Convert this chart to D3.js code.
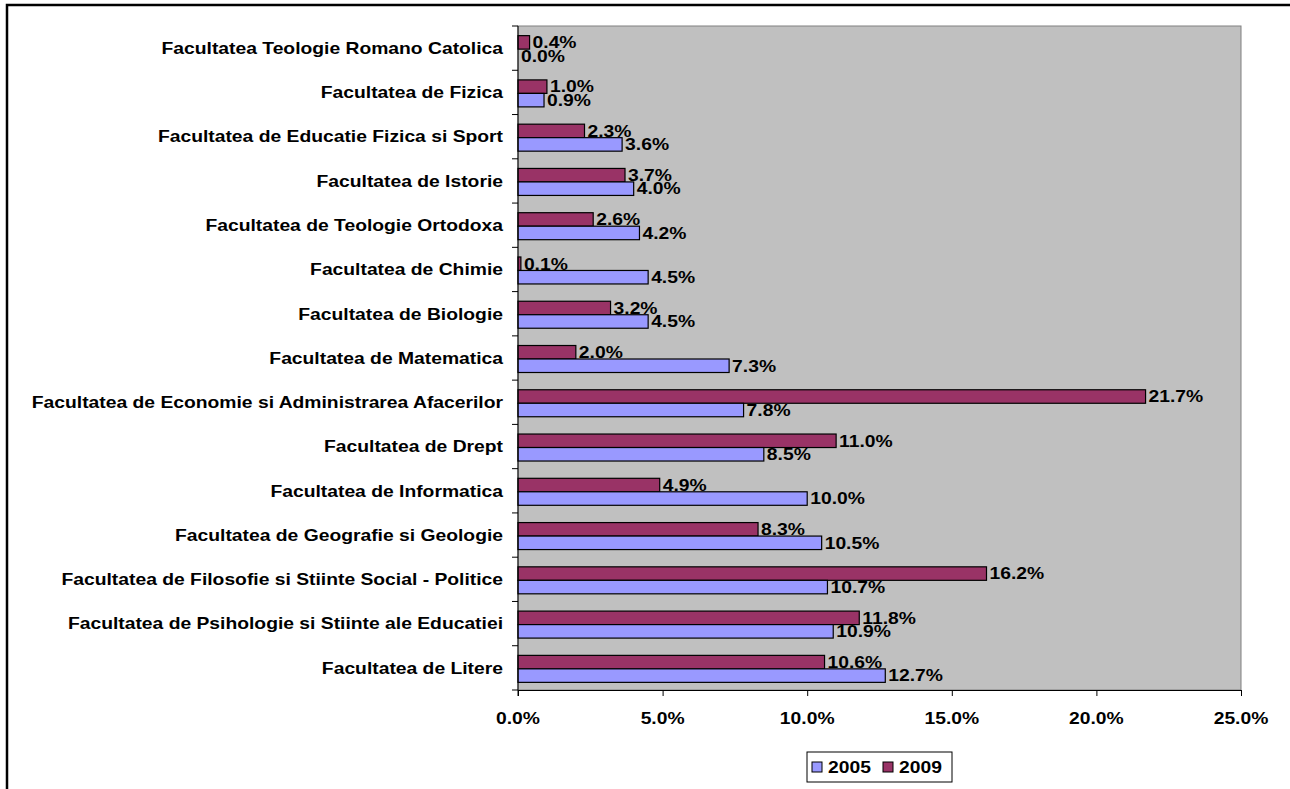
<!DOCTYPE html>
<html><head><meta charset="utf-8">
<script src="https://cdn.jsdelivr.net/npm/d3@7"></script>
<style>body{margin:0;background:#fff}svg{display:block}text{font-family:Arial,"Liberation Sans",sans-serif;font-weight:bold}</style>
</head><body><svg id="c" width="1290" height="789"></svg>
<script>
const categories = [
 "Facultatea Teologie Romano Catolica",
 "Facultatea de Fizica",
 "Facultatea de Educatie Fizica si Sport",
 "Facultatea de Istorie",
 "Facultatea de Teologie Ortodoxa",
 "Facultatea de Chimie",
 "Facultatea de Biologie",
 "Facultatea de Matematica",
 "Facultatea de Economie si Administrarea Afacerilor",
 "Facultatea de Drept",
 "Facultatea de Informatica",
 "Facultatea de Geografie si Geologie",
 "Facultatea de Filosofie si Stiinte Social - Politice",
 "Facultatea de Psihologie si Stiinte ale Educatiei",
 "Facultatea de Litere"
];
const values2005 = [0.0,0.9,3.6,4.0,4.2,4.5,4.5,7.3,7.8,8.5,10.0,10.5,10.7,10.9,12.7];
const values2009 = [0.4,1.0,2.3,3.7,2.6,0.1,3.2,2.0,21.7,11.0,4.9,8.3,16.2,11.8,10.6];
const seriesNames = ["2005","2009"];
const xTicks = [0,5,10,15,20,25];
const colors = {"2005":"#9999ff","2009":"#993366"};

const FS = 16.5, SX = 1.17;
function stretchedText(g, tx, ty, anchor, str){
  const t = g.append("g").attr("transform",`translate(${tx},${ty}) scale(${SX},1)`);
  t.append("text").attr("x",0).attr("y",0).attr("dy","0.35em")
   .attr("text-anchor",anchor).attr("font-size",FS).attr("fill","#000").text(str);
  return t;
}

const svg = d3.select("#c");
svg.append("rect").attr("x",7).attr("y",5).attr("width",1300).attr("height",800)
  .attr("fill","none").attr("stroke","#000").attr("stroke-width",2.5);

const L=518,R=1241,T=26,B=690;
const x = d3.scaleLinear().domain([0,25]).range([L,R]);
const y = d3.scaleBand().domain(categories).range([T,B]).padding(0);
const ys = d3.scaleBand().domain(["2009","2005"]).range([0,y.bandwidth()]).paddingInner(0).paddingOuter(0.64);

svg.append("rect").attr("x",L).attr("y",T).attr("width",R-L).attr("height",B-T)
  .attr("fill","#c0c0c0").attr("stroke","#808080").attr("stroke-width",1);

const data = [];
categories.forEach((c,i)=>{
  data.push({cat:c,s:"2009",v:values2009[i]});
  data.push({cat:c,s:"2005",v:values2005[i]});
});

svg.append("g").selectAll("rect").data(data).join("rect")
  .attr("x",x(0)).attr("y",d=>y(d.cat)+ys(d.s)+1)
  .attr("width",d=>x(d.v)-x(0)).attr("height",ys.bandwidth())
  .attr("fill",d=>colors[d.s]).attr("stroke","#000").attr("stroke-width",1.2);

// x axis
const xAxis = d3.axisBottom(x).tickValues(xTicks).tickSize(6).tickFormat("");
const gx = svg.append("g").attr("transform",`translate(0,${B})`).call(xAxis);
gx.select(".domain").attr("stroke","#000");
gx.selectAll(".tick line").attr("stroke","#000");
const gxl = svg.append("g");
xTicks.forEach(v=>stretchedText(gxl, x(v), 718, "middle", v.toFixed(1)+"%"));

// y axis
const gy = svg.append("g").attr("transform",`translate(${L},0)`);
gy.append("line").attr("x1",0).attr("x2",0).attr("y1",T).attr("y2",B+6).attr("stroke","#000");
const bounds = categories.map(c=>y(c)).concat([B]);
gy.selectAll("line.t").data(bounds).join("line").attr("class","t")
  .attr("x1",-6).attr("x2",0).attr("y1",d=>d).attr("y2",d=>d).attr("stroke","#000");
const gyl = svg.append("g");
categories.forEach(c=>stretchedText(gyl, L-15, y(c)+y.bandwidth()/2, "end", c));

// value labels
const gv = svg.append("g");
data.forEach(d=>stretchedText(gv, x(d.v)+3, y(d.cat)+ys(d.s)+1+ys.bandwidth()/2, "start", d.v.toFixed(1)+"%"));

// legend
const lg = svg.append("g");
lg.append("rect").attr("x",807).attr("y",752).attr("width",145).attr("height",30)
  .attr("fill","#fff").attr("stroke","#000").attr("stroke-width",1);
const lx = {"2005":812,"2009":883};
seriesNames.forEach(s=>{
  lg.append("rect").attr("x",lx[s]).attr("y",762).attr("width",10).attr("height",10)
    .attr("fill",colors[s]).attr("stroke","#000").attr("stroke-width",1);
  stretchedText(lg, lx[s]+16, 767, "start", s);
});
</script></body></html>
